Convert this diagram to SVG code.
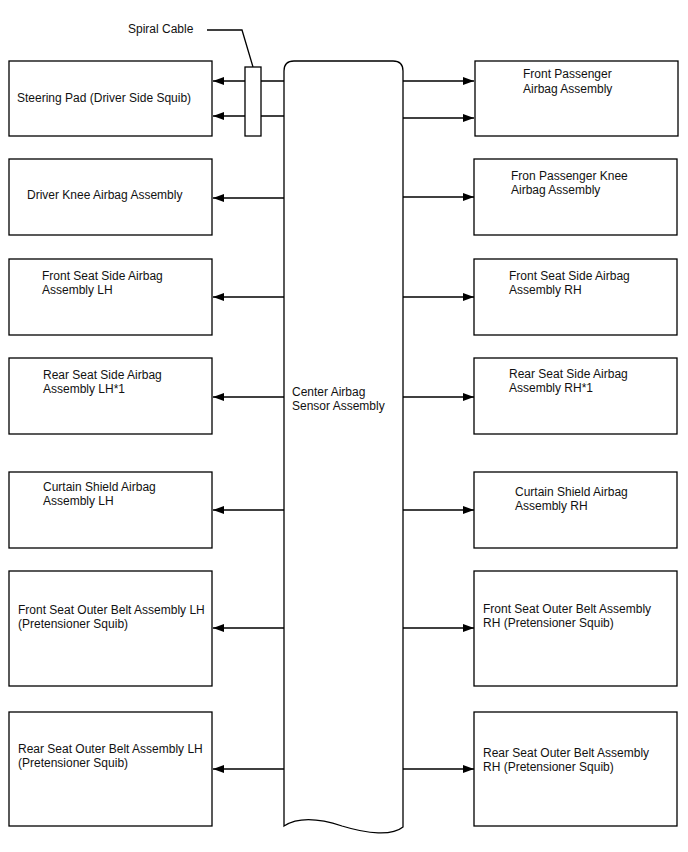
<svg xmlns="http://www.w3.org/2000/svg" width="688" height="852" viewBox="0 0 688 852">
<defs>
<marker id="arr" markerWidth="12" markerHeight="8" refX="11" refY="4" orient="auto" markerUnits="userSpaceOnUse">
<path d="M0,0 L11,4 L0,8 Z" fill="#000"/>
</marker>
<style>
.box{fill:#fff;stroke:#000;stroke-width:1.3}
.t{font-family:"Liberation Sans",Arial,sans-serif;font-size:12px;fill:#111}
.c{fill:none;stroke:#000;stroke-width:1.3}
.a{fill:none;stroke:#000;stroke-width:1.3;marker-end:url(#arr)}
</style>
</defs>
<rect width="688" height="852" fill="#fff"/>

<g id="center">
<path class="box" d="M284,826 L284,71 Q284,61 294,61 L393,61 Q403,61 403,71 L403,827 C392,836 368,834 342,826 C318,818 298,817 284,826 Z"/>
<text class="t" x="292" y="396">Center Airbag</text>
<text class="t" x="292" y="410">Sensor Assembly</text>
</g>

<g id="connectors">
<path class="a" d="M284,81 L213,81"/>
<path class="a" d="M284,116 L213,116"/>
<path class="a" d="M403,81 L474,81"/>
<path class="a" d="M403,118 L474,118"/>
<path class="a" d="M284,198 L213,198"/>
<path class="a" d="M403,197 L474,197"/>
<path class="a" d="M284,297 L213,297"/>
<path class="a" d="M403,297 L474,297"/>
<path class="a" d="M284,397 L213,397"/>
<path class="a" d="M403,397 L474,397"/>
<path class="a" d="M284,510 L213,510"/>
<path class="a" d="M403,510 L474,510"/>
<path class="a" d="M284,628 L213,628"/>
<path class="a" d="M403,628 L474,628"/>
<path class="a" d="M284,769 L213,769"/>
<path class="a" d="M403,769 L474,769"/>
<path class="c" d="M207,30 L242,30 L253,67"/>
</g>

<g id="spiral-cable">
<rect class="box" x="245" y="67" width="16" height="69"/>
<text class="t" x="128" y="33">Spiral Cable</text>
</g>

<g id="steering-pad">
<rect class="box" x="9" y="61" width="203" height="75"/>
<text class="t" x="17" y="102">Steering Pad (Driver Side Squib)</text>
</g>
<g id="driver-knee">
<rect class="box" x="9" y="159" width="203" height="76"/>
<text class="t" x="27" y="199">Driver Knee Airbag Assembly</text>
</g>
<g id="front-side-lh">
<rect class="box" x="9" y="259" width="203" height="76"/>
<text class="t" x="42" y="280">Front Seat Side Airbag</text>
<text class="t" x="42" y="294">Assembly LH</text>
</g>
<g id="rear-side-lh">
<rect class="box" x="9" y="358" width="203" height="76"/>
<text class="t" x="43" y="379">Rear Seat Side Airbag</text>
<text class="t" x="43" y="393">Assembly LH*1</text>
</g>
<g id="curtain-lh">
<rect class="box" x="9" y="472" width="203" height="76"/>
<text class="t" x="43" y="491">Curtain Shield Airbag</text>
<text class="t" x="43" y="505">Assembly LH</text>
</g>
<g id="front-belt-lh">
<rect class="box" x="9" y="571" width="203" height="115"/>
<text class="t" x="18" y="614">Front Seat Outer Belt Assembly LH</text>
<text class="t" x="18" y="628">(Pretensioner Squib)</text>
</g>
<g id="rear-belt-lh">
<rect class="box" x="9" y="712" width="203" height="114"/>
<text class="t" x="18" y="753">Rear Seat Outer Belt Assembly LH</text>
<text class="t" x="18" y="767">(Pretensioner Squib)</text>
</g>

<g id="front-passenger">
<rect class="box" x="475" y="61" width="203" height="75"/>
<text class="t" x="523" y="78">Front Passenger</text>
<text class="t" x="523" y="93">Airbag Assembly</text>
</g>
<g id="passenger-knee">
<rect class="box" x="474" y="159" width="203" height="76"/>
<text class="t" x="511" y="180">Fron Passenger Knee</text>
<text class="t" x="511" y="194">Airbag Assembly</text>
</g>
<g id="front-side-rh">
<rect class="box" x="474" y="259" width="203" height="76"/>
<text class="t" x="509" y="280">Front Seat Side Airbag</text>
<text class="t" x="509" y="294">Assembly RH</text>
</g>
<g id="rear-side-rh">
<rect class="box" x="474" y="358" width="203" height="76"/>
<text class="t" x="509" y="378">Rear Seat Side Airbag</text>
<text class="t" x="509" y="392">Assembly RH*1</text>
</g>
<g id="curtain-rh">
<rect class="box" x="474" y="472" width="203" height="76"/>
<text class="t" x="515" y="496">Curtain Shield Airbag</text>
<text class="t" x="515" y="510">Assembly RH</text>
</g>
<g id="front-belt-rh">
<rect class="box" x="474" y="571" width="203" height="115"/>
<text class="t" x="483" y="613">Front Seat Outer Belt Assembly</text>
<text class="t" x="483" y="627">RH (Pretensioner Squib)</text>
</g>
<g id="rear-belt-rh">
<rect class="box" x="474" y="712" width="203" height="114"/>
<text class="t" x="483" y="757">Rear Seat Outer Belt Assembly</text>
<text class="t" x="483" y="771">RH (Pretensioner Squib)</text>
</g>
</svg>
